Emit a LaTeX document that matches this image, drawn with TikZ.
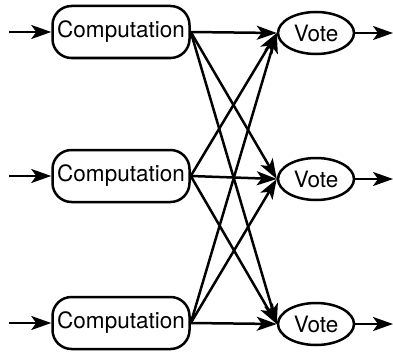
\documentclass[tikz,border=0pt]{standalone}
\usepackage{fontspec}
\setmainfont{TeX Gyre Heros}
\usetikzlibrary{arrows.meta,shapes.geometric}
\begin{document}
\begin{tikzpicture}[x=1pt,y=-1pt,
  line width=2.5pt,
  every node/.style={font=\fontsize{22.5}{26}\selectfont, inner sep=0pt},
  comp/.style={draw, rounded corners=19pt, minimum width=137pt, minimum height=52pt},
  vote/.style={draw, ellipse, minimum width=76pt, minimum height=42pt},
  flow/.style={-{Stealth[length=20pt,width=14pt,inset=5pt]}}]
\useasboundingbox (0,0) rectangle (393,353);
% computation stages
\node[comp] (c1) at (121,32) {Computation};
\node[comp] (c2) at (121,176) {Computation};
\node[comp] (c3) at (121,323) {Computation};
% voters
\node[vote] (v1) at (316,33) {Vote};
\node[vote] (v2) at (316,179) {Vote};
\node[vote] (v3) at (316,324) {Vote};
% inputs and outputs
\foreach \i/\y in {1/32,2/176,3/323} {
  \coordinate (in\i) at (9,\y);
  \draw[flow] (in\i) -- (c\i.west);
}
\foreach \i/\y in {1/33,2/179,3/324} {
  \coordinate (out\i) at (393,\y);
  \draw[flow] (v\i.east) -- (out\i);
}
% every computation feeds every voter
\foreach \a in {1,2,3} {
  \foreach \b in {1,2,3} {
    \draw[flow] (c\a.east) -- (v\b.west);
  }
}
\end{tikzpicture}
\end{document}
